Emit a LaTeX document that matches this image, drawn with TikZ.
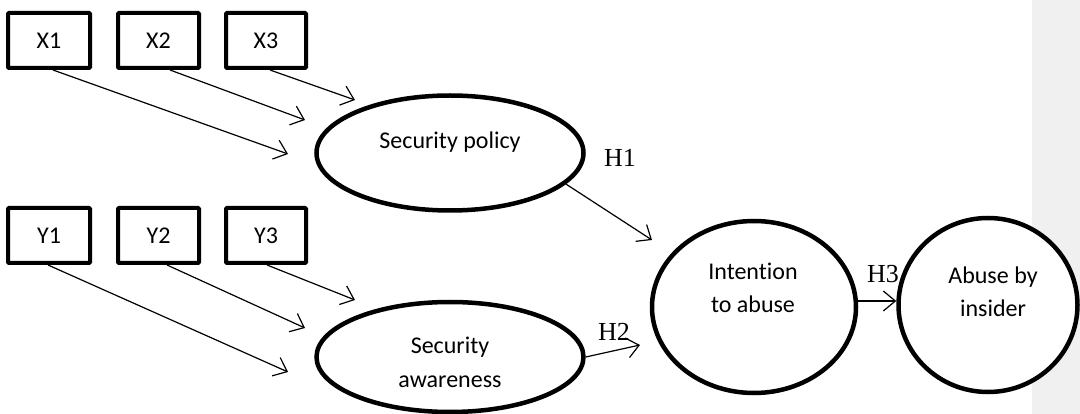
\documentclass[tikz,border=0pt]{standalone}
\usepackage{fontspec}
\setmainfont{Carlito}[Ligatures=NoCommon]
\newfontfamily\hfont{Liberation Serif}
\usetikzlibrary{shapes.geometric,arrows.meta}
\definecolor{barcol}{RGB}{240,240,240}
\tikzset{
  obsbox/.style={draw, line width=4pt, rounded corners=1pt, inner sep=0pt, font=\fontsize{24}{28}\selectfont},
  latent/.style={draw, fill=white, ellipse, line width=4.5pt, inner sep=0pt},
  intext/.style={align=center, anchor=base, inner sep=0pt, font=\fontsize{24}{34}\selectfont},
  hyp/.style={anchor=base, inner sep=0pt, font=\hfont\fontsize{26}{30}\selectfont},
  link/.style={line width=1.2pt, -{Straight Barb[length=12pt,width=20pt,line width=1.2pt]}}
}
\begin{document}
\begin{tikzpicture}[x=1pt,y=-1pt]
\useasboundingbox (0,0) rectangle (1080,414);
\fill[barcol] (1032,0) rectangle (1080,414);
% observed boxes
\node[obsbox, minimum width=82pt, minimum height=55pt] (X1) at (49,40.5) {X1};
\node[obsbox, minimum width=81pt, minimum height=55pt] (X2) at (158.5,40.5) {X2};
\node[obsbox, minimum width=80pt, minimum height=55pt] (X3) at (266,40.5) {X3};
\node[obsbox, minimum width=82pt, minimum height=55pt] (Y1) at (49,235.5) {Y1};
\node[obsbox, minimum width=81pt, minimum height=55pt] (Y2) at (158.5,235.5) {Y2};
\node[obsbox, minimum width=80pt, minimum height=55pt] (Y3) at (266,235.5) {Y3};
% latent ellipses
\node[latent, minimum width=267pt, minimum height=115pt] (SP) at (450,153) {};
\node[latent, minimum width=267pt, minimum height=110pt] (SA) at (450,357) {};
\node[latent, minimum width=204pt, minimum height=172pt] (IA) at (754,307) {};
\node[latent, minimum width=179pt, minimum height=174pt] (AB) at (988,305) {};
% ellipse texts (base = baseline of last line)
\node[intext] (SPt) at (450,149) {Security policy};
\node[intext] (SAt) at (450,387) {Security\\awareness};
\node[intext] (IAt) at (753,313) {Intention\\to abuse};
\node[intext] (ABt) at (993,317) {Abuse by\\insider};
% free arrow ends
\coordinate (eX1) at (288,154);
\coordinate (eX2) at (305,120);
\coordinate (eX3) at (355,100);
\coordinate (eY1) at (288,372);
\coordinate (eY2) at (305,328);
\coordinate (eY3) at (355,300);
\coordinate (eH1) at (652,240);
\coordinate (eH2) at (640,345);
% indicator arrows
\draw[link] ([xshift=4pt]X1.south) -- (eX1);
\draw[link] ([xshift=11.5pt]X2.south) -- (eX2);
\draw[link] ([xshift=4pt]X3.south) -- (eX3);
\draw[link] ([xshift=-1pt]Y1.south) -- (eY1);
\draw[link] ([xshift=8.5pt]Y2.south) -- (eY2);
\draw[link] ([xshift=1pt]Y3.south) -- (eY3);
% structural arrows
\draw[link] (SP.-15) -- (eH1);
\draw[link] (SA.east) -- (eH2);
\draw[link] (IA.east |- 0,301) -- (AB.west |- 0,301);
% hypothesis labels
\node[hyp] (H1) at (620,167) {H1};
\node[hyp] (H2) at (614,341) {H2};
\node[hyp] (H3) at (883,283) {H3};
\end{tikzpicture}
\end{document}
